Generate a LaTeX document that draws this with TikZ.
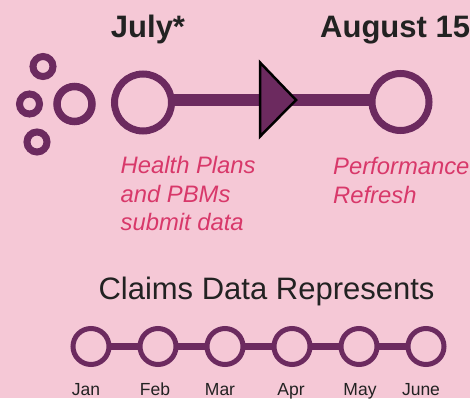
\documentclass[tikz,border=0pt]{standalone}
\usepackage{fontspec}
\setmainfont{Liberation Sans}
\definecolor{bgpink}{HTML}{F5C8D6}
\definecolor{plum}{HTML}{6C2A5F}
\definecolor{rose}{HTML}{D8386A}
\definecolor{ink}{HTML}{222222}
\tikzset{
  ring/.style={circle, draw=plum, fill=bgpink, inner sep=0pt, outer sep=0pt},
  bigring/.style={ring, line width=7pt, minimum size=57pt},
  monthring/.style={ring, line width=5pt, minimum size=36pt},
  heading/.style={inner sep=0pt, text=ink, font=\bfseries\fontsize{31}{36}\selectfont},
  note/.style={inner sep=0pt, anchor=base west, text=rose, font=\itshape\fontsize{23.8}{28}\selectfont},
  month/.style={inner sep=0pt, anchor=base, text=ink, font=\fontsize{17.5}{20}\selectfont},
  link/.style={draw=plum, line width=12pt},
  monthlink/.style={draw=plum, line width=7pt}
}
\begin{document}
\begin{tikzpicture}[x=1pt,y=-1pt]
\fill[bgpink] (0,0) rectangle (470,398);
\useasboundingbox (0,0) rectangle (470,398);

% headings
\node[heading, anchor=base] (july label) at (148,38) {July*};
\node[heading, anchor=base west] (aug label) at (320,38) {August 15};

% cluster of small rings
\node[ring, line width=7pt, minimum size=20pt] (dot1) at (43,66.5) {};
\node[ring, line width=7pt, minimum size=20pt] (dot2) at (29.5,104) {};
\node[ring, line width=7pt, minimum size=20pt] (dot3) at (37,142) {};
\node[ring, line width=7.5pt, minimum size=35pt] (dot4) at (74.5,104) {};

% main timeline
\coordinate (tip) at (296,100);
\coordinate (tritop) at (260,62.5);
\coordinate (tribot) at (260,136.5);
\coordinate (linestart) at (170,100);
\coordinate (lineend) at (375,100);
\draw[link] (linestart) -- (lineend);
\node[bigring] (july) at (143,102.5) {};
\node[bigring] (aug) at (400.5,102) {};
\filldraw[fill=plum, draw=black, line width=2.5pt, line join=miter]
  (tritop) -- (tip) -- (tribot) -- cycle;

% notes under the timeline
\node[note] (hp1) at (120.5,173.5) {Health Plans};
\node[note] (hp2) at (120.5,202) {and PBMs};
\node[note] (hp3) at (120.5,230) {submit data};
\node[note] (pr1) at (333,174) {Performance};
\node[note] (pr2) at (333,203) {Refresh};

% claims months
\node[inner sep=0pt, anchor=base, text=ink, font=\fontsize{31}{36}\selectfont]
  (claims) at (266.5,299) {Claims Data Represents};
\foreach \x/\n in {91/m1,158/m2,225/m3,292/m4,359/m5,426/m6}
  \coordinate (\n c) at (\x,346.5);
\draw[monthlink] (m1c) -- (m6c);
\foreach \n in {m1,m2,m3,m4,m5,m6}
  \node[monthring] (\n) at (\n c) {};
\node[month] (jan) at (86,395) {Jan};
\node[month] (feb) at (155,395) {Feb};
\node[month] (mar) at (220,395) {Mar};
\node[month] (apr) at (291,395) {Apr};
\node[month] (may) at (360,395) {May};
\node[month] (jun) at (421,395) {June};
\end{tikzpicture}
\end{document}
